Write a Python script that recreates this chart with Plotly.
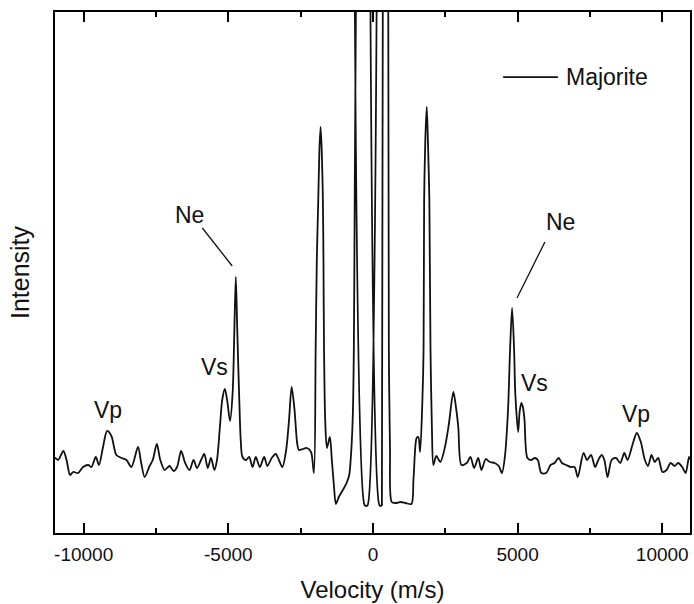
import plotly.graph_objects as go

# Velocity (m/s) and intensity (arbitrary units)
velocity = [
    -11050, -10990, -10880, -10700, -10590, -10470, -10360, -10190, -10020, -9840, -9730,
    -9580, -9470, -9330, -9190, -9040, -8870, -8690, -8520, -8350, -8120,
    -8010, -7890, -7720, -7610, -7470, -7350, -7200, -7030, -6890, -6770,
    -6630, -6490, -6340, -6200, -6080, -5940, -5830, -5710, -5600, -5480,
    -5390, -5290, -5210, -5120, -5040, -4940, -4850, -4790, -4740, -4690,
    -4620, -4570, -4510, -4390, -4280, -4160, -4050, -3910, -3760, -3650,
    -3500, -3360, -3250, -3130, -3000, -2900, -2810, -2710, -2620, -2560,
    -2420, -2280, -2140, -2040, -1980, -1940, -1890, -1850, -1810, -1770,
    -1730, -1710, -1690, -1650, -1590, -1490, -1420, -1350, -1280, -1180,
    -1040, -910, -820, -770, -700, -660, -630, -590, -540, -420,
    -320, -290, -230, -180, -150, 0, 190, 220, 270, 310,
    340, 440, 530, 550, 590, 650, 780, 950, 1130, 1330,
    1400, 1470, 1510, 1570, 1630, 1710, 1750, 1770, 1810, 1860,
    1900, 1950, 1990, 2040, 2090, 2190, 2330, 2490, 2620, 2780,
    2860, 2950, 3060, 3240, 3370, 3500, 3640, 3750, 3900, 4040,
    4210, 4350, 4460, 4560, 4670, 4740, 4810, 4880, 4920, 5020,
    5070, 5130, 5190, 5240, 5340, 5470, 5590, 5700, 5820, 5990,
    6140, 6280, 6420, 6530, 6680, 6830, 6970, 7080, 7280, 7400,
    7540, 7680, 7790, 7910, 8000, 8110, 8250, 8400, 8550, 8690,
    8800, 8970, 9120, 9260, 9400, 9510, 9630, 9740, 9860, 10010,
    10150, 10290, 10430, 10550, 10690, 10810, 10930, 11000,
]
intensity = [
    72, 75, 73, 82, 73, 58, 61, 60, 66, 68, 66,
    76, 68, 86, 102, 97, 78, 75, 73, 66, 86,
    70, 56, 67, 73, 89, 73, 63, 67, 62, 66,
    82, 70, 63, 73, 65, 73, 79, 65, 75, 63,
    73, 106, 133, 144, 133, 112, 140, 203, 256, 203,
    133, 93, 76, 73, 76, 66, 76, 66, 76, 67,
    75, 79, 73, 66, 83, 113, 146, 123, 90, 83,
    84, 85, 81, 60, 183, 273, 333, 383, 406, 383,
    333, 273, 183, 113, 85, 96, 73, 48, 29, 36,
    43, 50, 58, 73, 113, 183, 333, 521, 6000, 9000,
    8000, 28, 27, 28, 8000, 20000, 8000, 28, 27, 28,
    8000, 9000, 521, 183, 83, 31, 30, 31, 30, 29,
    53, 88, 95, 96, 81, 133, 183, 333, 393, 426,
    393, 333, 183, 103, 68, 77, 71, 86, 108, 141,
    128, 106, 68, 70, 76, 65, 75, 63, 74, 71,
    70, 67, 60, 76, 123, 183, 225, 183, 140, 101,
    121, 130, 125, 113, 75, 73, 75, 73, 60, 60,
    68, 70, 75, 70, 68, 66, 66, 56, 80, 73,
    78, 66, 73, 78, 73, 56, 73, 75, 70, 80,
    73, 88, 100, 91, 73, 67, 78, 71, 75, 61,
    63, 70, 67, 70, 66, 60, 76, 72,
]

x_range = [-10990, 10960]
y_range = [0, 521]
tick_values = [-10000, -5000, 0, 5000, 10000]
tick_labels = ["-10000", "-5000", "0", "5000", "10000"]
minor_tick_values = [-7500, -2500, 2500, 7500]

# Peak labels: text, position, and leader lines (data coordinates)
label_text = ["Ne", "Vs", "Vp", "Ne", "Vs", "Vp"]
label_v = [-6344, -5487, -9166, 6495, 5600, 9110]
label_i = [318, 166, 123, 311, 150, 119]
leader_lines = [((-5896, 305), (-4864, 267)), ((5944, 291), (4980, 235))]

font_family = "Liberation Sans, Arial, sans-serif"
ink = "#111111"

fig = go.Figure()
fig.add_trace(go.Scatter(
    x=velocity, y=intensity, mode="lines", name="Majorite",
    line=dict(color=ink, width=1.8, shape="spline", smoothing=0.8),
    showlegend=False, hoverinfo="x+y",
))

for t, v, i in zip(label_text, label_v, label_i):
    fig.add_annotation(x=v, y=i, text=t, showarrow=False,
                       font=dict(family=font_family, size=23, color=ink),
                       xanchor="center", yanchor="middle")

for (p0, p1) in leader_lines:
    fig.add_shape(type="line", x0=p0[0], y0=p0[1], x1=p1[0], y1=p1[1],
                  xref="x", yref="y", line=dict(color=ink, width=1.3))

# Manual legend (line sample + name)
fig.add_shape(type="line", xref="paper", yref="paper",
              x0=0.7057, x1=0.792, y0=0.875, y1=0.875,
              line=dict(color=ink, width=1.6))
fig.add_annotation(xref="paper", yref="paper", x=0.801, y=0.875,
                   text="Majorite", showarrow=False, xanchor="left",
                   yanchor="middle",
                   font=dict(family=font_family, size=23, color=ink))

fig.update_layout(
    width=694, height=604,
    margin=dict(l=55, r=2, t=12, b=71),
    paper_bgcolor="white", plot_bgcolor="white",
    font=dict(family=font_family, color=ink),
)
fig.update_xaxes(
    range=x_range, showgrid=False, zeroline=False,
    showline=True, linecolor="black", linewidth=2, mirror="allticks",
    ticks="inside", ticklen=10, tickwidth=2, tickcolor="black",
    tickmode="array", tickvals=tick_values, ticktext=tick_labels,
    minor=dict(ticks="inside", ticklen=5, tickwidth=2, tickcolor="black",
               tickmode="array", tickvals=minor_tick_values, showgrid=False),
    ticklabelstandoff=3,
    tickfont=dict(family=font_family, size=19, color=ink),
    title=dict(text="Velocity (m/s)", standoff=17,
               font=dict(family=font_family, size=24, color=ink)),
)
fig.update_yaxes(
    range=y_range, showgrid=False, zeroline=False,
    showline=True, linecolor="black", linewidth=2, mirror=True,
    ticks="", showticklabels=False,
    title=dict(text="Intensity", standoff=16,
               font=dict(family=font_family, size=25, color=ink)),
)

fig.write_html("out.html")
